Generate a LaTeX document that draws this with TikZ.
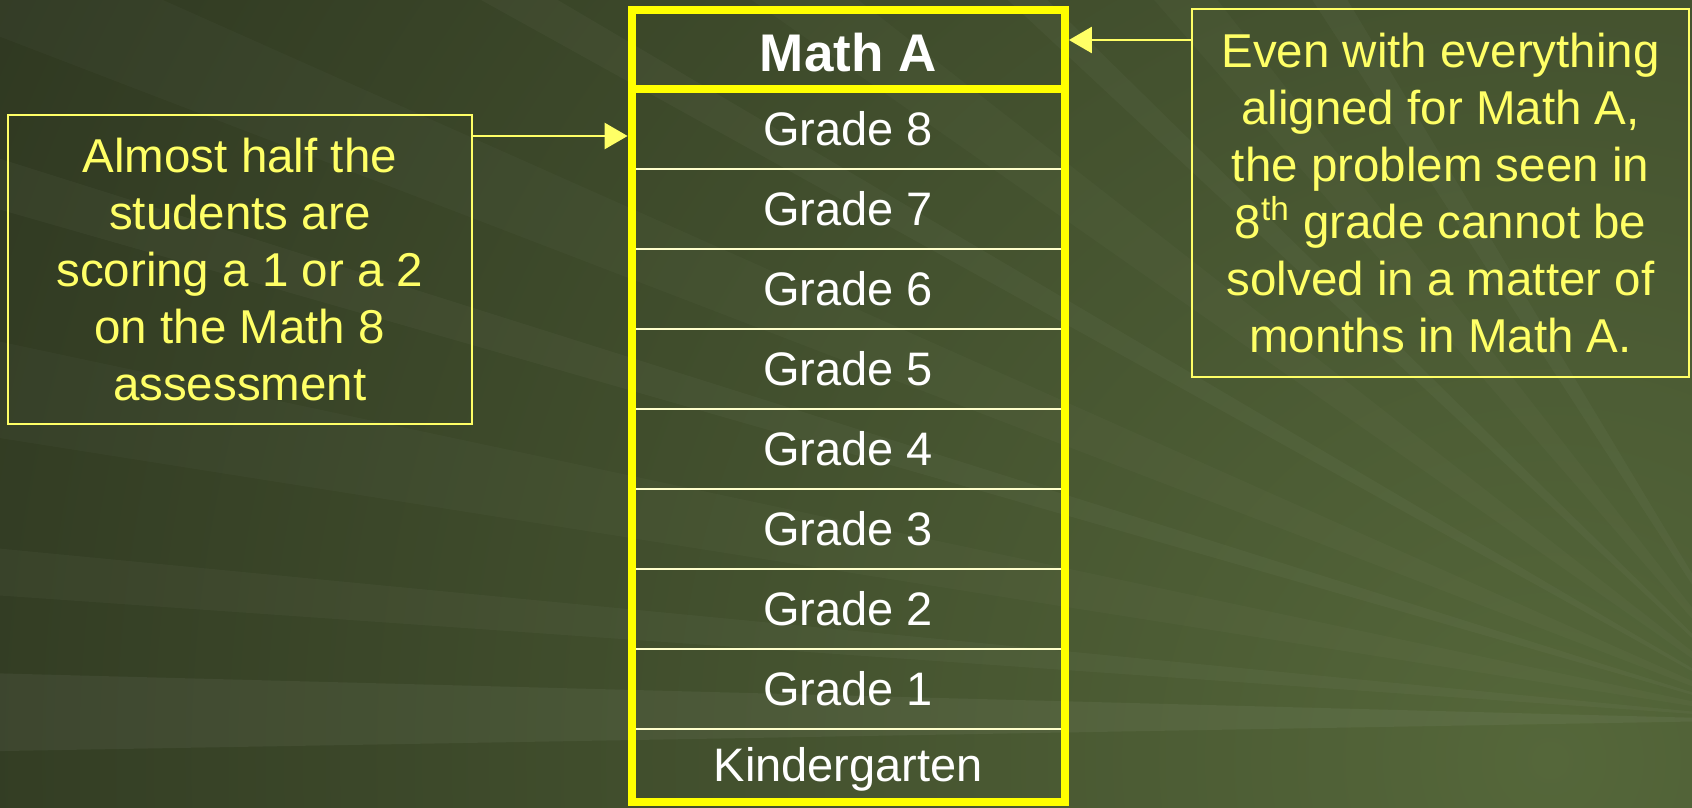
\documentclass[tikz,border=0pt]{standalone}
\usepackage{fontspec}
\setmainfont{Liberation Sans}
\usetikzlibrary{arrows.meta,calc}
\definecolor{callout}{HTML}{FFFF66}
\definecolor{frameY}{HTML}{FFFF00}
\definecolor{divY}{HTML}{FFFFCC}
\definecolor{bgA}{HTML}{2F3821}
\definecolor{bgB}{HTML}{55673A}
\begin{document}
\begin{tikzpicture}[x=0.5pt,y=-0.5pt,
  cell/.style={minimum width=216.25pt, minimum height=40pt, inner sep=0pt, text=white, font=\fontsize{23.5}{28}\selectfont},
  headcell/.style={cell, minimum height=39.5pt, text height=22pt, font=\fontsize{26.5}{30}\selectfont\bfseries},
  calloutbox/.style={draw=callout, line width=1pt, text=callout, align=center, inner sep=0pt, font=\fontsize{23.75}{28.5}\selectfont},
  arr/.style={draw=callout, line width=1.3pt, -{Triangle[length=11.5pt,width=13pt]}},
  frameline/.style={draw=frameY, line width=4pt},
  divider/.style={draw=divY, line width=1pt}]
\useasboundingbox (0,0) rectangle (1692,808);
% background
\begin{scope}
  \clip (0,0) rectangle (1692,808);
  \fill[bgA] (0,0) rectangle (1692,808);
  \shade[inner color=bgB, outer color=bgA] (1550,760) circle (1750);
  \coordinate (F) at (1780,720);
  \foreach \a/\b/\o in {179/181.5/0.05, 184/185.5/0.03, 189/192/0.025, 196/197.5/0.03, 201/204/0.025, 209/210.5/0.03, 215/218/0.025, 223/224.5/0.03, 229/232/0.025, 237/239/0.03}
    \fill[white, opacity=\o] (F) -- ($(F)+(\a:3000)$) -- ($(F)+(\b:3000)$) -- cycle;
\end{scope}
% central column
\node[headcell] (mathA) at (848.25,49.5) {Math A};
\node[cell] (g8) at (848.25,129) {Grade 8};
\node[cell] (g7) at (848.25,209) {Grade 7};
\node[cell] (g6) at (848.25,289) {Grade 6};
\node[cell] (g5) at (848.25,369) {Grade 5};
\node[cell] (g4) at (848.25,449) {Grade 4};
\node[cell] (g3) at (848.25,529) {Grade 3};
\node[cell] (g2) at (848.25,609) {Grade 2};
\node[cell] (g1) at (848.25,689) {Grade 1};
\node[cell] (gK) at (848.25,769) {Kindergarten};
\foreach \n in {g8,g7,g6,g5,g4,g3,g2,g1}
  \draw[divider] (\n.south west) -- (\n.south east);
\draw[frameline] (mathA.south west) -- (mathA.south east);
\draw[frameline] (mathA.north west) rectangle ([yshift=3.5pt]gK.south east);
% callouts
\node[calloutbox, minimum width=232.2pt, minimum height=154.5pt] (lbox) at (239.8,269.5)
  {Almost half the\\students are\\scoring a 1 or a 2\\on the Math 8\\assessment};
\node[calloutbox, minimum width=248.5pt, minimum height=184pt] (rbox) at (1440.5,193)
  {Even with everything\\aligned for Math A,\\the problem seen in\\8\textsuperscript{th} grade cannot be\\solved in a matter of\\months in Math A.};
% connectors
\coordinate (ls) at ($(lbox.north east)+(0,22)$);
\coordinate (lt) at ([xshift=-2pt]g8.west |- ls);
\draw[arr] (ls) -- (lt);
\coordinate (rs) at ($(rbox.north west)+(0,32)$);
\coordinate (rt) at ([xshift=2pt]mathA.east |- rs);
\draw[arr] (rs) -- (rt);
\end{tikzpicture}
\end{document}
